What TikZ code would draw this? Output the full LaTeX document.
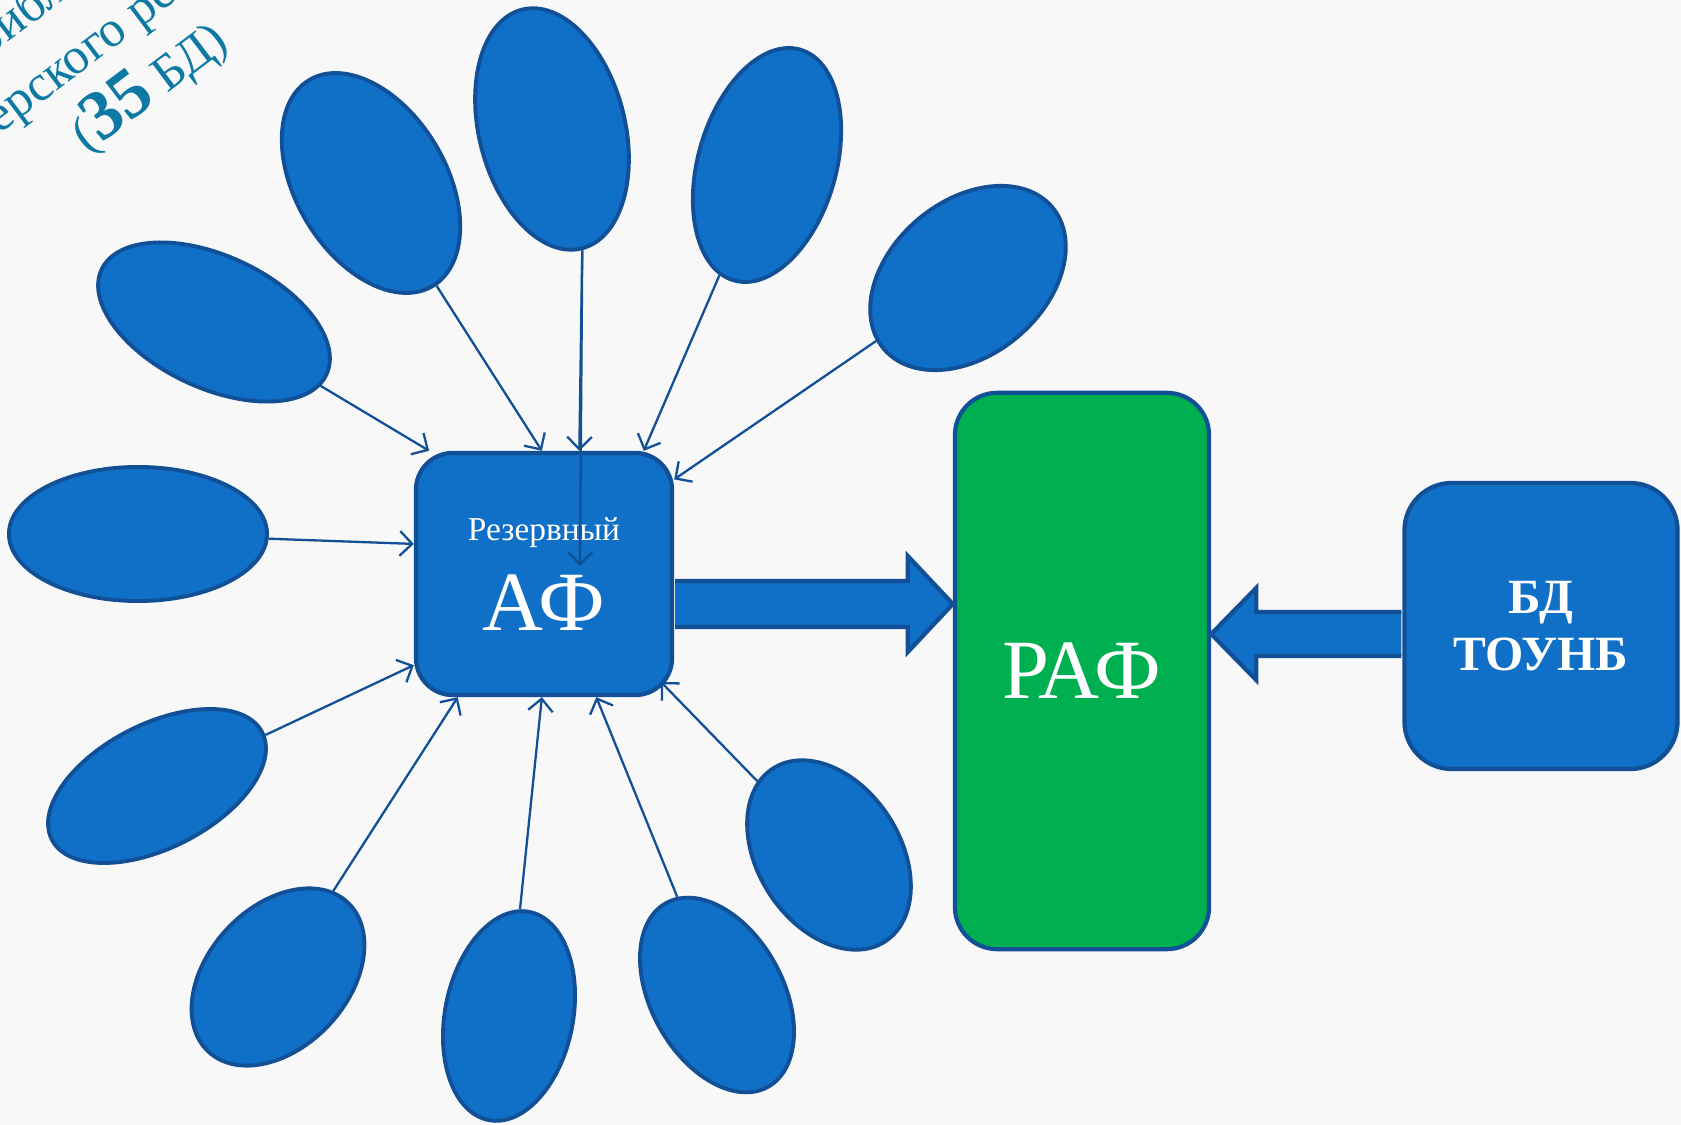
\documentclass[tikz,border=0pt]{standalone}
\usepackage{fontspec}
\setmainfont{Liberation Serif}
\usetikzlibrary{shapes.geometric, arrows.meta, calc}
\definecolor{petal}{RGB}{16,111,198}
\definecolor{petalline}{RGB}{17,80,150}
\definecolor{rafgreen}{RGB}{0,175,80}
\definecolor{headteal}{RGB}{14,122,164}
\definecolor{paper}{RGB}{248,248,248}
\tikzset{
  petal/.style={ellipse, draw=petalline, fill=petal, line width=1.1pt, inner sep=0pt},
  fund/.style={rectangle, draw=petalline, line width=1.2pt, text=white, align=center, inner sep=0pt},
  feed/.style={draw=petalline, line width=0.65pt, -{Straight Barb[length=3.5pt,width=7pt]}},
  bigarrow/.style={fill=petal, draw=petalline, line width=1.2pt, line join=miter},
  headline/.style={text=headteal, align=center, font=\fontsize{14.5}{19.5}\selectfont},
}
\begin{document}
\begin{tikzpicture}[x=0.01cm, y=-0.01cm]
    \fill[paper] (0,0) rectangle (1681,1125);
    \clip (0,0) rectangle (1681,1125);
    \node[headline, rotate=37] (head) at (110,35) {библиотек\\Тверского региона\\({\fontsize{20}{19}\selectfont\bfseries 35} БД)};

    \node[fund, fill=petal, minimum width=2.56cm, minimum height=2.42cm, rounded corners=10.5pt,
          font=\fontsize{24}{25.5}\selectfont] (af) at (544,574)
          {{\fontsize{9.5}{11}\selectfont Резервный}\\АФ};
    \node[fund, fill=rafgreen, minimum width=2.54cm, minimum height=5.56cm, rounded corners=12pt,
          font=\fontsize{24}{28}\selectfont] (raf) at (1082,671) {РАФ};
    \node[fund, fill=petal, minimum width=2.73cm, minimum height=2.86cm, rounded corners=13.5pt,
          font=\bfseries\fontsize{14}{16.4}\selectfont] (bd) at (1541,626) {БД\\ТОУНБ};

    \foreach \i/\cx/\cy/\w/\h/\r in {1/214/322/2.48/1.32/-25, 2/371/183/2.40/1.50/-59,
        3/552/129/2.46/1.46/-76, 4/767/165/2.40/1.38/74, 5/968/278/2.20/1.54/40,
        6/138/534/2.58/1.34/0, 7/157/786/2.36/1.24/27, 8/278/977/2.04/1.40/47,
        9/509/1016/2.12/1.28/79, 10/717/995/2.10/1.32/-61, 11/829/855/2.06/1.42/-57}
      \node[petal, minimum width=\w cm, minimum height=\h cm, rotate=\r] (e\i) at (\cx,\cy) {};

    \foreach \i/\a in {1/133, 2/91, 4/51, 5/36, 6/167, 7/215, 8/235, 9/269, 10/293}
      \draw[feed] (e\i) -- (af.\a);
    \draw[feed] (e3.east) -- (af.74);
    \draw[feed] (e3.east) -- ($(af.center)+(36,-8)$);
    \draw[feed] (e11) -- ($(af.center)+(117,108)$);

    % block arrows
    \coordinate (tipA) at ($(raf.west)+(0,-67)$);
    \filldraw[bigarrow] ($(af.east |- tipA)+(1,-23)$) -- ($(tipA)+(-45,-23)$) -- ($(tipA)+(-45,-48)$)
      -- (tipA) -- ($(tipA)+(-45,48)$) -- ($(tipA)+(-45,23)$) -- ($(af.east |- tipA)+(1,23)$);
    \coordinate (tipB) at ($(raf.east)+(0,-37)$);
    \filldraw[bigarrow] ($(bd.west |- tipB)+(-1,-22)$) -- ($(tipB)+(45,-22)$) -- ($(tipB)+(45,-46)$)
      -- (tipB) -- ($(tipB)+(45,46)$) -- ($(tipB)+(45,22)$) -- ($(bd.west |- tipB)+(-1,22)$);
\end{tikzpicture}
\end{document}
